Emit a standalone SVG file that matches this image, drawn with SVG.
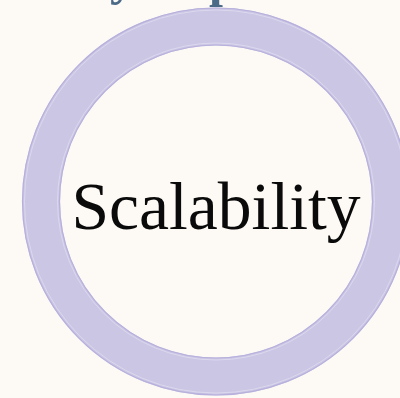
<svg xmlns="http://www.w3.org/2000/svg" width="400" height="398" viewBox="0 0 400 398">
  <style>
    .bg { fill: #fdf9f5; }
    .ring { fill: none; stroke: #cbc6e4; stroke-width: 38; }
    .edge-dark { fill: none; stroke: #b7b0dc; stroke-width: 1.2; }
    .edge-light { fill: none; stroke: #dcd8ee; stroke-width: 1; }
    .label { font-family: "Liberation Serif", "DejaVu Serif", serif; font-size: 68px; fill: #0a0a0a; }
    .title { font-family: "Liberation Serif", "DejaVu Serif", serif; font-size: 50px; font-weight: bold; fill: #4b6a87; }
  </style>
  <rect class="bg" x="0" y="0" width="400" height="398"/>
  <g id="title-fragment">
    <text class="title" x="110" y="-6">y</text>
    <text class="title" x="209" y="-4">p</text>
  </g>
  <g id="scalability-node">
    <circle class="ring" cx="216" cy="201.5" r="175"/>
    <circle class="edge-dark" cx="216" cy="201.5" r="193.5"/>
    <circle class="edge-light" cx="216" cy="201.5" r="191.5"/>
    <circle class="edge-dark" cx="216" cy="201.5" r="156.5"/>
    <circle class="edge-light" cx="216" cy="201.5" r="158.5"/>
    <text class="label" x="216" y="229" text-anchor="middle" textLength="289" lengthAdjust="spacingAndGlyphs">Scalability</text>
  </g>
  <g id="connectors"/>
</svg>
